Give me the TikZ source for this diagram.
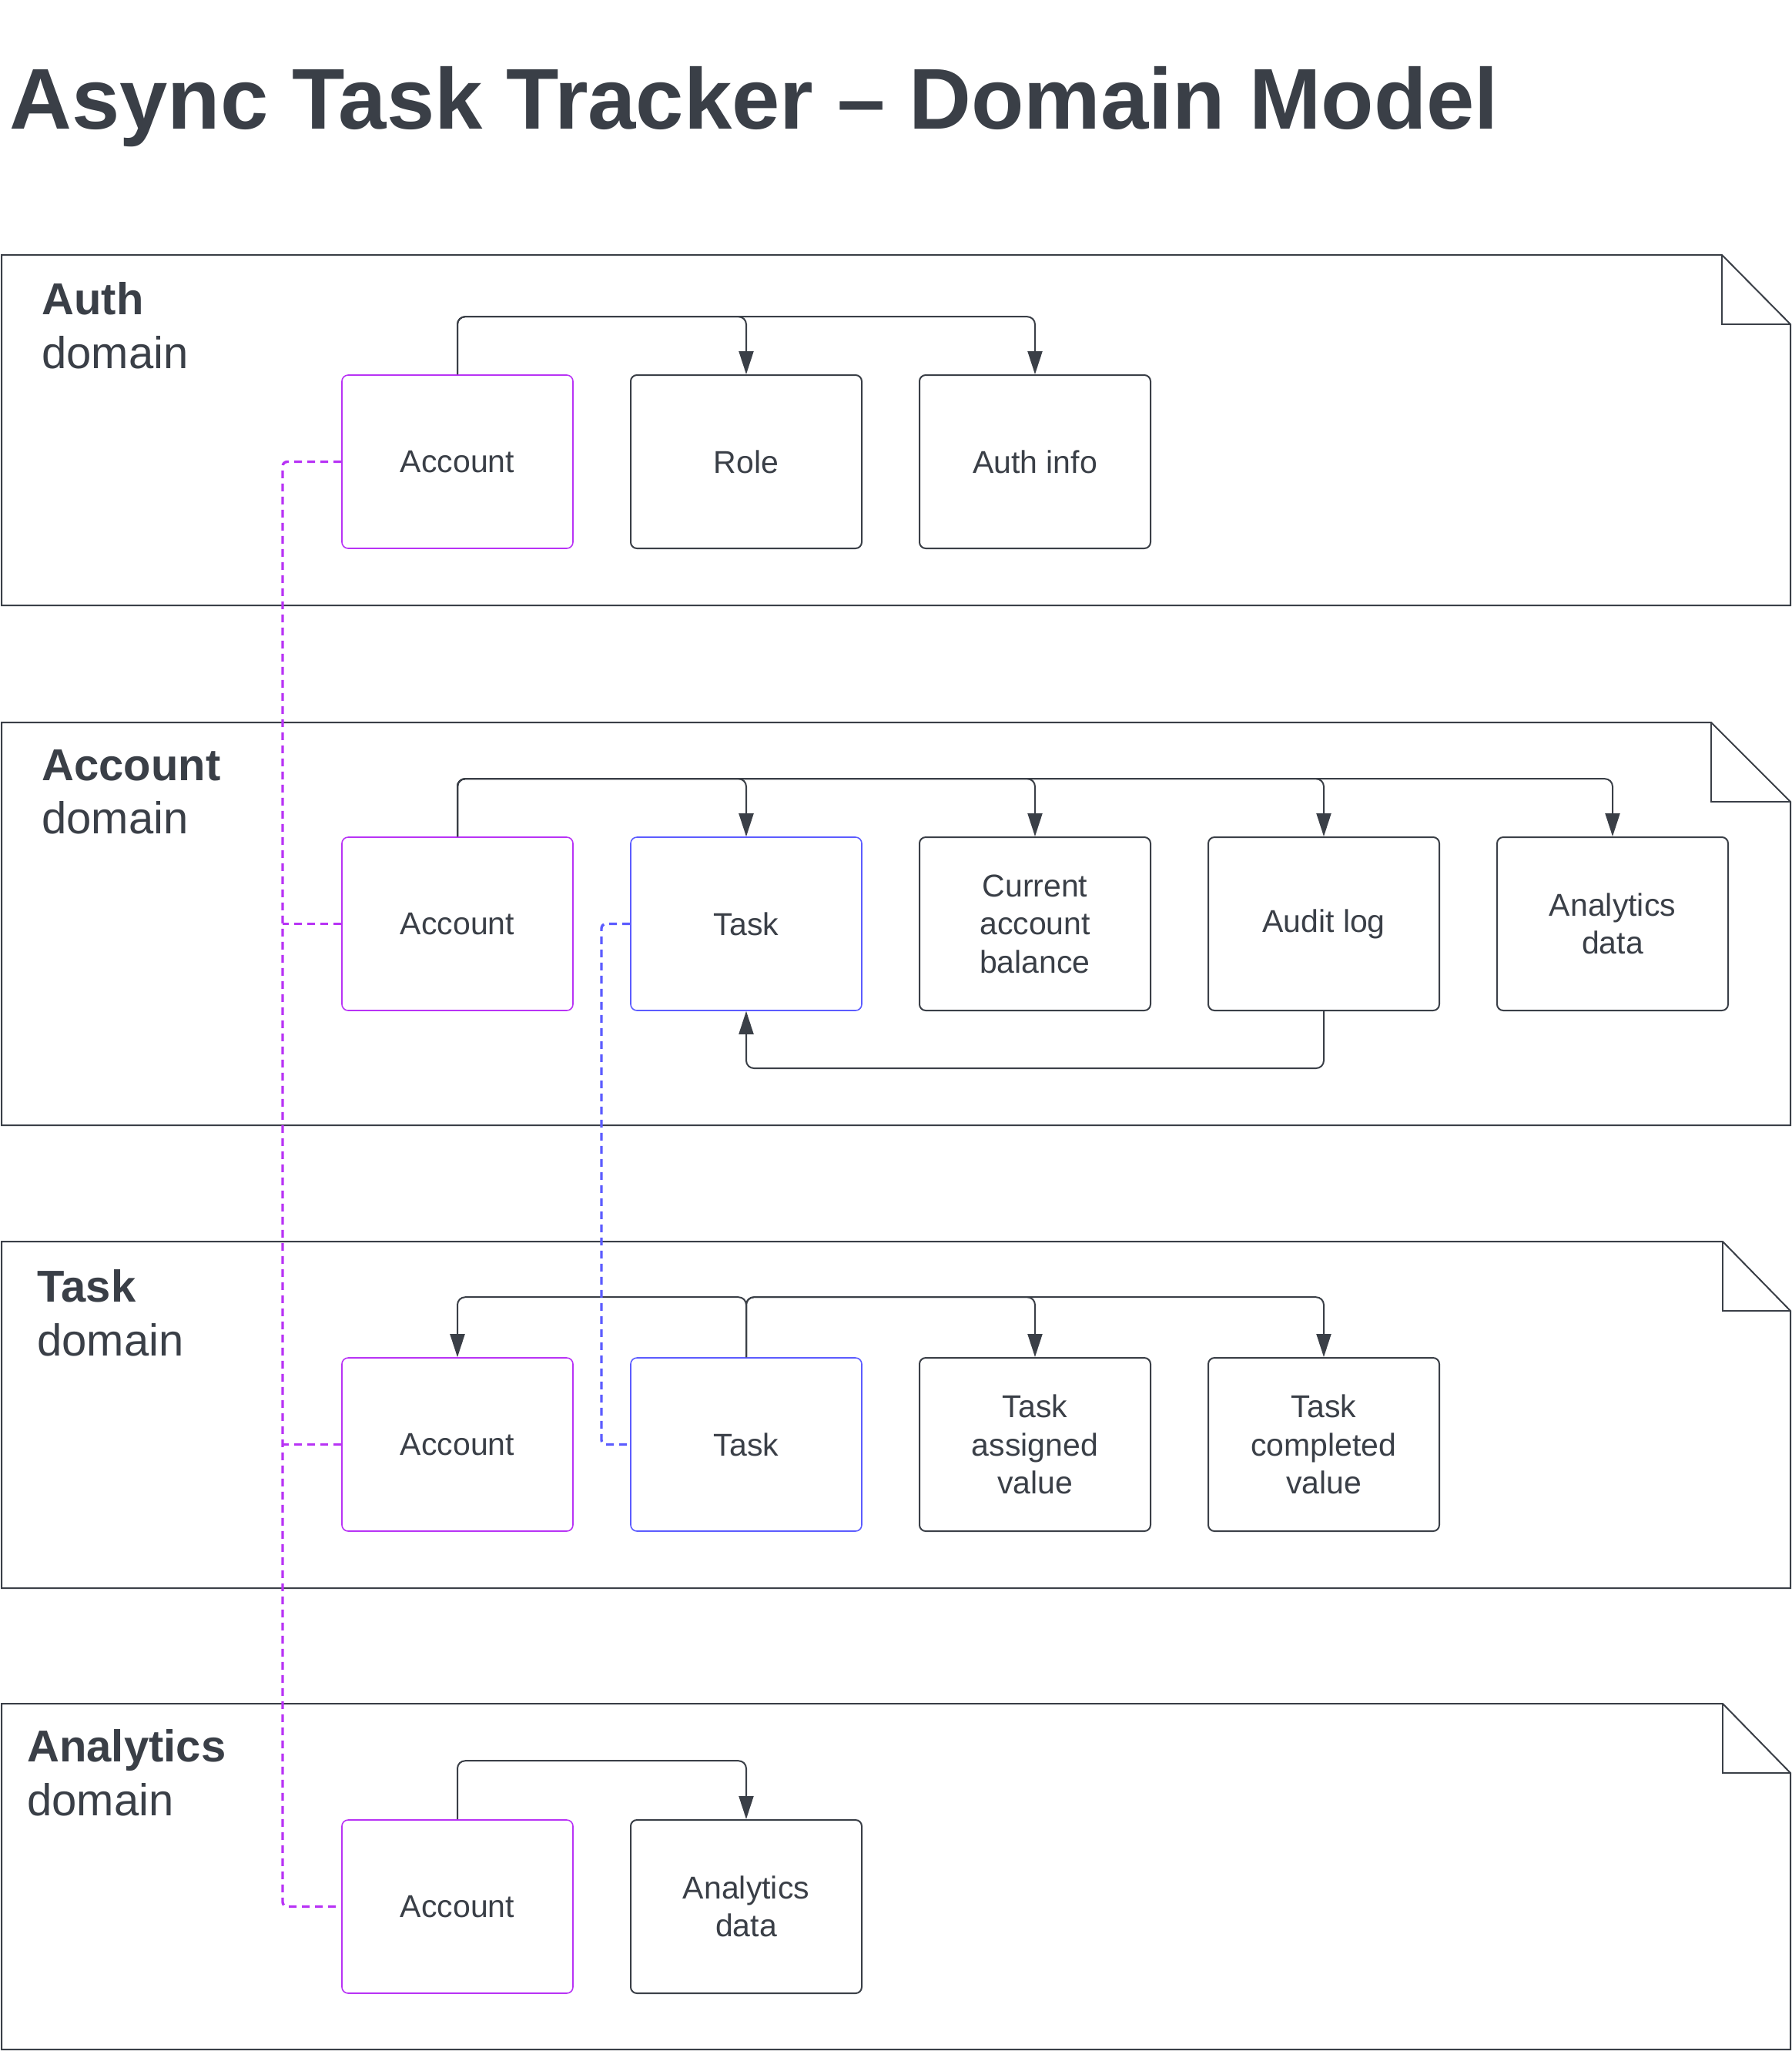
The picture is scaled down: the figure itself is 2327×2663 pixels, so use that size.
\documentclass[tikz,border=0pt]{standalone}
\usepackage{fontspec}
\setmainfont{Liberation Sans}
\usetikzlibrary{arrows.meta,calc}
\definecolor{ink}{HTML}{3A3F47}
\definecolor{pur}{HTML}{B833F5}
\definecolor{blu}{HTML}{5C5CFF}
\tikzset{
 entity/.style={draw=ink, line width=1pt, rounded corners=4pt, minimum width=150pt, minimum height=112.5pt, inner sep=0pt, align=center, text=ink, font=\fontsize{20.5}{24.75}\selectfont},
 accbox/.style={entity, draw=pur, line width=0.8pt},
 taskbox/.style={entity, draw=blu, line width=0.8pt},
 frame/.style={draw=ink, line width=1pt, line join=miter},
 conn/.style={draw=ink, line width=1pt, rounded corners=5pt, -{Triangle[length=15pt,width=9.5pt]}},
 pdash/.style={draw=pur, line width=1.7pt, dash pattern=on 5pt off 3.5pt, rounded corners=3pt},
 bdash/.style={pdash, draw=blu},
 dtitle/.style={anchor=base west, text=ink, font=\fontsize{29}{34}\selectfont\bfseries, inner sep=0pt},
 dsub/.style={anchor=base west, text=ink, font=\fontsize{29}{34}\selectfont, inner sep=0pt},
 maintitle/.style={anchor=base west, text=ink, font=\fontsize{56}{67}\selectfont\bfseries, inner sep=0pt},
}
\begin{document}
\begin{tikzpicture}[x=0.5pt,y=-0.5pt]
\useasboundingbox (0,0) rectangle (2327,2663);

% title
\node[maintitle] (title) at (12,167) {Async Task Tracker – Domain Model};

% frames
\draw[frame] (2,331) -- (2236,331) -- (2325,421) -- (2325,786) -- (2,786) -- cycle;
\draw[frame] (2236,331) -- (2236,421) -- (2325,421);
\draw[frame] (2,938) -- (2222,938) -- (2325,1041) -- (2325,1461) -- (2,1461) -- cycle;
\draw[frame] (2222,938) -- (2222,1041) -- (2325,1041);
\draw[frame] (2,1612) -- (2237,1612) -- (2325,1702) -- (2325,2062) -- (2,2062) -- cycle;
\draw[frame] (2237,1612) -- (2237,1702) -- (2325,1702);
\draw[frame] (2,2212) -- (2237,2212) -- (2325,2302) -- (2325,2661) -- (2,2661) -- cycle;
\draw[frame] (2237,2212) -- (2237,2302) -- (2325,2302);

% domain labels
\node[dtitle] (l1a) at (54,408) {Auth};
\node[dsub] (l1b) at (54,478) {domain};
\node[dtitle] (l2a) at (54,1013) {Account};
\node[dsub] (l2b) at (54,1082) {domain};
\node[dtitle] (l3a) at (48,1690) {Task};
\node[dsub] (l3b) at (48,1760) {domain};
\node[dtitle] (l4a) at (35,2287) {Analytics};
\node[dsub] (l4b) at (35,2357) {domain};

% Auth domain
\node[accbox] (a1) at (594,599.5) {Account};
\node[entity] (r1) at (969,599.5) {Role};
\node[entity] (ai1) at (1344,599.5) {Auth info};

% Account domain
\node[accbox] (a2) at (594,1199.5) {Account};
\node[taskbox] (t2) at (969,1199.5) {Task};
\node[entity] (cab2) at (1344,1199.5) {Current\\account\\balance};
\node[entity] (al2) at (1719,1199.5) {Audit log};
\node[entity] (ad2) at (2094,1199.5) {Analytics\\data};

% Task domain
\node[accbox] (a3) at (594,1875.5) {Account};
\node[taskbox] (t3) at (969,1875.5) {Task};
\node[entity] (tav3) at (1344,1875.5) {Task\\assigned\\value};
\node[entity] (tcv3) at (1719,1875.5) {Task\\completed\\value};

% Analytics domain
\node[accbox] (a4) at (594,2475.5) {Account};
\node[entity] (ad4) at (969,2475.5) {Analytics\\data};

% connectors
\draw[conn] (a1.north) -- ++(0,-75) -| (r1.north);
\draw[conn] (a1.north) -- ++(0,-75) -| (ai1.north);

\draw[conn] (a2.north) -- ++(0,-75) -| (t2.north);
\draw[conn] (a2.north) -- ++(0,-75) -| (cab2.north);
\draw[conn] (a2.north) -- ++(0,-75) -| (al2.north);
\draw[conn] (a2.north) -- ++(0,-75) -| (ad2.north);
\draw[conn] (al2.south) -- ++(0,74) -| (t2.south);

\draw[conn] (t3.north) -- ++(0,-78) -| (a3.north);
\draw[conn] (t3.north) -- ++(0,-78) -| (tav3.north);
\draw[conn] (t3.north) -- ++(0,-78) -| (tcv3.north);

\draw[conn] (a4.north) -- ++(0,-76) -| (ad4.north);

% dashed links
\coordinate (pv) at (367,599.5);
\coordinate (bv) at (781,1199.5);
\draw[pdash] (a1.west) -- (pv) -- (pv |- a4.west) -- (a4.west);
\draw[pdash] (a2.west) -- (a2.west -| pv);
\draw[pdash] (a3.west) -- (a3.west -| pv);
\draw[bdash] (t2.west) -- (bv) -- (bv |- t3.west) -- (t3.west);
\end{tikzpicture}
\end{document}
